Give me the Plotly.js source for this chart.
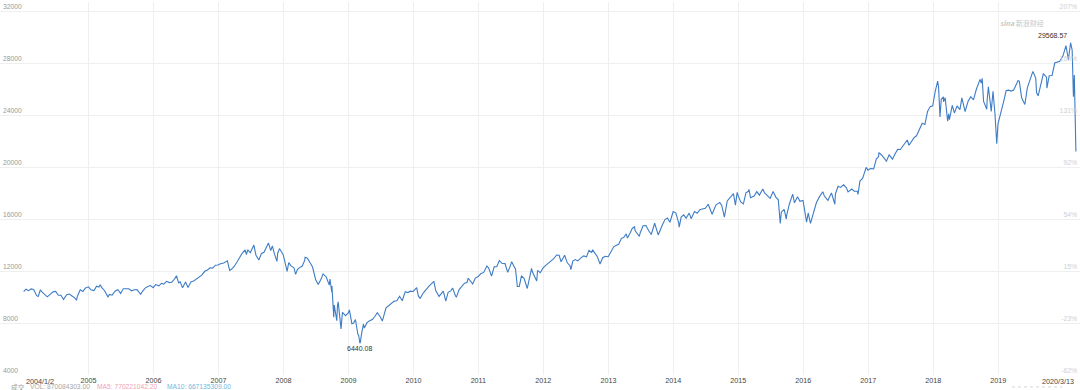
<!DOCTYPE html>
<html>
<head>
<meta charset="utf-8">
<script src="https://cdn.plot.ly/plotly-3.0.1.min.js"></script>
<style>html,body{margin:0;padding:0;background:#fff;}#chart{width:1080px;height:390px;}</style>
</head>
<body>
<div id="chart"></div>
<script>
// ---- data ----
const dates = [
 '2004-01-02','2004-01-15','2004-01-30','2004-02-13','2004-02-27','2004-03-15','2004-03-24','2004-03-31','2004-04-05','2004-04-15','2004-04-30','2004-05-14','2004-05-28','2004-06-15','2004-06-30','2004-07-15','2004-07-30','2004-08-13','2004-08-31','2004-09-15','2004-09-30','2004-10-15','2004-10-25','2004-10-29','2004-11-15','2004-11-30','2004-12-15','2004-12-31',
 '2005-01-14','2005-01-31','2005-02-15','2005-02-28','2005-03-07','2005-03-15','2005-03-31','2005-04-15','2005-04-20','2005-04-29','2005-05-13','2005-05-31','2005-06-15','2005-06-30','2005-07-15','2005-07-29','2005-08-15','2005-08-31','2005-09-15','2005-09-30','2005-10-21','2005-10-31','2005-11-15','2005-11-30','2005-12-15','2005-12-30',
 '2006-01-13','2006-01-31','2006-02-15','2006-02-28','2006-03-15','2006-03-31','2006-04-13','2006-04-28','2006-05-10','2006-05-22','2006-05-31','2006-06-13','2006-06-30','2006-07-14','2006-07-31','2006-08-15','2006-08-31','2006-09-15','2006-09-29','2006-10-16','2006-10-31','2006-11-15','2006-11-30','2006-12-15','2006-12-29',
 '2007-01-12','2007-01-31','2007-02-20','2007-02-27','2007-03-05','2007-03-15','2007-03-30','2007-04-16','2007-04-30','2007-05-15','2007-05-31','2007-06-07','2007-06-15','2007-06-29','2007-07-19','2007-07-31','2007-08-16','2007-08-31','2007-09-14','2007-09-28','2007-10-09','2007-10-22','2007-10-31','2007-11-12','2007-11-26','2007-11-30','2007-12-10','2007-12-31',
 '2008-01-22','2008-01-31','2008-02-14','2008-02-29','2008-03-10','2008-03-19','2008-03-31','2008-04-15','2008-04-30','2008-05-02','2008-05-15','2008-05-30','2008-06-13','2008-06-30','2008-07-15','2008-07-31','2008-08-11','2008-08-29','2008-09-15','2008-09-19','2008-09-29','2008-09-30','2008-10-10','2008-10-13','2008-10-27','2008-10-31','2008-11-04','2008-11-20','2008-11-28','2008-12-15','2008-12-31',
 '2009-01-06','2009-01-20','2009-01-30','2009-02-09','2009-02-23','2009-02-27','2009-03-06','2009-03-09','2009-03-16','2009-03-26','2009-03-31','2009-04-15','2009-04-30','2009-05-15','2009-05-29','2009-06-12','2009-06-30','2009-07-10','2009-07-31','2009-08-14','2009-08-31','2009-09-15','2009-09-30','2009-10-15','2009-10-30','2009-11-16','2009-11-30','2009-12-15','2009-12-31',
 '2010-01-19','2010-01-29','2010-02-08','2010-02-26','2010-03-15','2010-03-31','2010-04-26','2010-04-30','2010-05-06','2010-05-25','2010-05-31','2010-06-18','2010-07-02','2010-07-15','2010-07-30','2010-08-09','2010-08-26','2010-08-31','2010-09-15','2010-09-30','2010-10-15','2010-10-29','2010-11-05','2010-11-30','2010-12-15','2010-12-31',
 '2011-01-14','2011-01-31','2011-02-18','2011-02-28','2011-03-16','2011-03-31','2011-04-15','2011-04-29','2011-05-13','2011-05-31','2011-06-15','2011-06-30','2011-07-07','2011-07-29','2011-08-08','2011-08-19','2011-08-31','2011-09-15','2011-09-30','2011-10-03','2011-10-27','2011-10-31','2011-11-25','2011-11-30','2011-12-15','2011-12-30',
 '2012-01-13','2012-01-31','2012-02-15','2012-02-29','2012-03-16','2012-03-30','2012-04-10','2012-04-30','2012-05-15','2012-05-31','2012-06-04','2012-06-15','2012-06-29','2012-07-13','2012-07-31','2012-08-15','2012-08-31','2012-09-14','2012-09-28','2012-10-05','2012-10-31','2012-11-15','2012-11-30','2012-12-14','2012-12-31',
 '2013-01-15','2013-01-31','2013-02-15','2013-02-28','2013-03-15','2013-03-28','2013-04-11','2013-04-18','2013-04-30','2013-05-15','2013-05-28','2013-05-31','2013-06-24','2013-06-28','2013-07-15','2013-07-31','2013-08-15','2013-08-30','2013-09-18','2013-09-30','2013-10-08','2013-10-31','2013-11-15','2013-11-29','2013-12-13','2013-12-31',
 '2014-01-15','2014-01-31','2014-02-03','2014-02-14','2014-02-28','2014-03-14','2014-03-31','2014-04-11','2014-04-30','2014-05-15','2014-05-30','2014-06-13','2014-06-30','2014-07-16','2014-07-31','2014-08-07','2014-08-29','2014-09-19','2014-09-30','2014-10-15','2014-10-31','2014-11-14','2014-11-28','2014-12-05','2014-12-16','2014-12-26','2014-12-31',
 '2015-01-15','2015-01-30','2015-02-13','2015-02-27','2015-03-02','2015-03-11','2015-03-31','2015-04-15','2015-04-30','2015-05-19','2015-05-29','2015-06-15','2015-06-29','2015-06-30','2015-07-16','2015-07-31','2015-08-14','2015-08-24','2015-08-25','2015-08-31','2015-09-16','2015-09-28','2015-09-30','2015-10-15','2015-10-30','2015-11-03','2015-11-13','2015-11-30','2015-12-14','2015-12-31',
 '2016-01-20','2016-01-29','2016-02-11','2016-02-29','2016-03-15','2016-03-31','2016-04-20','2016-04-29','2016-05-19','2016-05-31','2016-06-08','2016-06-27','2016-06-30','2016-07-15','2016-07-29','2016-08-15','2016-08-31','2016-09-09','2016-09-30','2016-10-14','2016-10-31','2016-11-04','2016-11-15','2016-11-30','2016-12-20','2016-12-30',
 '2017-01-13','2017-01-31','2017-02-15','2017-02-28','2017-03-01','2017-03-15','2017-03-31','2017-04-13','2017-04-28','2017-05-17','2017-05-31','2017-06-15','2017-06-30','2017-07-14','2017-07-31','2017-08-08','2017-08-18','2017-08-31','2017-09-15','2017-09-29','2017-10-16','2017-10-31','2017-11-15','2017-11-30','2017-12-15','2017-12-29',
 '2018-01-12','2018-01-26','2018-01-31','2018-02-05','2018-02-08','2018-02-15','2018-02-27','2018-02-28','2018-03-09','2018-03-23','2018-03-29','2018-04-02','2018-04-18','2018-04-30','2018-05-15','2018-05-31','2018-06-11','2018-06-29','2018-07-16','2018-07-31','2018-08-15','2018-08-31','2018-09-21','2018-09-28','2018-10-03','2018-10-11','2018-10-29','2018-10-31','2018-11-07','2018-11-23','2018-11-30','2018-12-03','2018-12-14','2018-12-24','2018-12-31',
 '2019-01-15','2019-01-31','2019-02-15','2019-02-28','2019-03-15','2019-03-29','2019-04-23','2019-04-30','2019-05-13','2019-05-31','2019-06-14','2019-06-28','2019-07-15','2019-07-31','2019-08-05','2019-08-14','2019-08-30','2019-09-12','2019-09-30','2019-10-02','2019-10-15','2019-10-31','2019-11-15','2019-11-29','2019-12-13','2019-12-31',
 '2020-01-17','2020-01-31','2020-02-12','2020-02-21','2020-02-25','2020-02-28','2020-03-04','2020-03-09','2020-03-10','2020-03-11','2020-03-13'
];
const closes = [
 10409,10600,10488,10628,10584,10102,10048,10358,10558,10380,10226,10012,10188,10400,10435,10140,10140,9815,10174,10230,10080,9933,9750,10027,10550,10428,10692,10783,
 10558,10490,10837,10766,10940,10745,10504,10088,10012,10193,10140,10467,10566,10275,10640,10641,10634,10482,10558,10569,10215,10440,10686,10806,10881,10718,
 10959,10865,11058,10993,11209,11109,11138,11367,11642,11094,11168,10706,11150,10740,11186,11230,11381,11560,11679,11980,12081,12251,12222,12445,12463,
 12556,12622,12786,12216,12050,12133,12354,12720,13063,13383,13628,13266,13639,13409,14000,13212,12846,13358,13442,13896,14164,13567,13930,13300,12743,13372,13727,13265,
 11971,12650,12376,12266,11740,12099,12263,12362,12820,13058,12992,12638,12307,11350,10962,11378,11782,11544,10917,11388,10365,10851,8451,9387,8176,9325,9625,7552,8829,8565,8776,
 9015,7949,8001,8270,7114,7063,6440.08,6547,7217,7924,7609,8029,8168,8268,8500,8799,8447,8146,9172,9321,9496,9683,9712,10062,9713,10406,10345,10452,10428,
 10725,10067,9908,10325,10625,10857,11205,11009,10520,10043,10137,10450,9686,10359,10466,10698,10060,10015,10573,10788,11063,11118,11444,11006,11457,11578,
 11787,11892,12391,12226,11613,12320,12342,12811,12596,12570,11898,12414,12719,12143,10810,10817,11614,11433,10913,10655,12209,11955,11231,12046,11868,12218,
 12422,12633,12781,12952,13233,13212,12715,13214,12632,12393,12101,12767,12880,12777,13009,13165,13091,13593,13437,13610,13096,12542,13026,13135,13104,
 13534,13861,13981,14054,14514,14579,14865,14537,14840,15275,15409,15116,14660,14910,15484,15500,15112,14810,15676,15130,14776,15546,15962,16086,15755,16577,
 16482,15699,15373,16154,16322,16065,16458,16027,16581,16446,16717,16776,16827,17138,16563,16368,17098,17280,17043,16142,17391,17635,17828,17958,17068,18053,17823,
 17320,17165,18019,18133,18288,17635,17776,18112,17841,18312,18011,17791,17596,17620,18120,17690,17477,15871,15666,16528,16740,16001,16285,17141,17664,17918,17245,17720,17368,17425,
 15766,16466,15660,16517,17251,17685,18096,17774,17436,17787,18005,17140,17930,18516,18432,18636,18401,18085,18308,18138,18142,17888,18923,19124,19974,19763,
 19886,19864,20611,20812,21115,20950,20663,20453,20941,20607,21009,21360,21350,21638,21891,22085,21675,21948,22268,22405,22957,23377,23271,24272,24651,24719,
 25803,26617,26149,24346,23860,25200,25410,25029,25336,23533,24103,23644,24748,24163,24706,24416,25322,24271,25064,25415,25162,25965,26743,26458,26828,25052,24443,25116,26180,24286,25538,25826,24101,21792,23327,
 24065,24999,25883,25916,25849,25929,26656,26593,25324,24815,26090,26600,27359,26864,25718,25479,26403,27182,26917,26079,27024,27046,28005,28051,28135,28538,
 29348,28256,29568.57,28992,27081,25409,27090,23851,25018,23553,21200
];
const yTicks = [4000, 8000, 12000, 16000, 20000, 24000, 28000, 32000];
const pctLabels = ['-62%', '-23%', '15%', '54%', '92%', '131%', '169%', '207%'];
const yearTicks = ['2005','2006','2007','2008','2009','2010','2011','2012','2013','2014','2015','2016','2017','2018','2019'];
const firstLabel = '2004/1/2';
const lastLabel = '2020/3/13';
const legendParts = [
  {text: '成交', color: '#a0a0a0'},
  {text: 'VOL: 870084303.00', color: '#a9a9a9'},
  {text: 'MA5: 770221042.20', color: '#f0a3b6'},
  {text: 'MA10: 667135309.00', color: '#74b9e0'}
];

// ---- derived ----
let iMax = 0, iMin = 0;
closes.forEach((v, i) => { if (v > closes[iMax]) iMax = i; if (v < closes[iMin]) iMin = i; });
const fmt = v => v.toFixed(2);

const traces = [
  {x: dates, y: closes, type: 'scatter', mode: 'lines', line: {color: '#3e7cc6', width: 1.1}, hoverinfo: 'skip', showlegend: false},
  {x: dates, y: closes, type: 'scatter', mode: 'lines', yaxis: 'y2', line: {color: 'rgba(0,0,0,0)', width: 0}, hoverinfo: 'skip', showlegend: false}
];

const FONT = 'Liberation Sans, Arial, sans-serif';
const annotations = [
  {x: dates[iMax], y: closes[iMax], xref: 'x', yref: 'y', text: fmt(closes[iMax]), showarrow: false,
   xanchor: 'right', yanchor: 'bottom', xshift: -2, yshift: 2, font: {family: FONT, size: 7, color: '#333'}},
  {x: dates[iMin], y: closes[iMin], xref: 'x', yref: 'y', text: fmt(closes[iMin]), showarrow: false,
   xanchor: 'center', yanchor: 'top', yshift: 0, font: {family: FONT, size: 7, color: '#333'}},
  {x: dates[0], y: 0, xref: 'x', yref: 'paper', text: firstLabel, showarrow: false, xanchor: 'left', yanchor: 'top', yshift: 0,
   font: {family: FONT, size: 7.2, color: '#444'}},
  {x: dates[dates.length - 1], y: 0, xref: 'x', yref: 'paper', text: lastLabel, showarrow: false, xanchor: 'right', yanchor: 'top', yshift: 0,
   font: {family: FONT, size: 7.2, color: '#444'}},
  {x: 1022 / 1080, y: 1, xref: 'paper', yref: 'paper', text: '<i><b>sina</b></i> 新浪财经', showarrow: false, xanchor: 'center', yanchor: 'middle', yshift: -21,
   font: {family: 'Noto Sans CJK SC, sans-serif', size: 7, color: '#c8c8c8'}}
];
// volume header line
const legendX = [9, 28, 95, 165];
legendParts.forEach((p, i) => {
  annotations.push({x: legendX[i] / 1080, y: 0, xref: 'paper', yref: 'paper', text: p.text, showarrow: false,
    xanchor: 'left', yanchor: 'middle', yshift: -11.5,
    font: {family: i === 0 ? 'Noto Sans CJK SC, sans-serif' : FONT, size: 6.7, color: p.color}});
});

const layout = {
  width: 1080, height: 390,
  margin: {l: 0, r: 0, t: 2, b: 15, pad: 0},
  paper_bgcolor: '#ffffff', plot_bgcolor: '#ffffff',
  showlegend: false,
  xaxis: {
    type: 'date', range: ['2003-08-22', '2020-04-05'],
    tickmode: 'array', tickvals: yearTicks.map(y => y + '-01-01'), ticktext: yearTicks,
    showgrid: true, gridcolor: '#efefef', gridwidth: 1, zeroline: false, showline: false, ticks: '',
    tickfont: {family: FONT, size: 7.2, color: '#444'}, fixedrange: true
  },
  yaxis: {
    range: [4000, 32700], tickmode: 'array', tickvals: yTicks, ticktext: yTicks.map(String),
    ticklabelposition: 'inside top', showgrid: true, gridcolor: '#efefef', zeroline: false, showline: false, ticks: '',
    tickfont: {family: FONT, size: 6.8, color: '#9a9a9a'}, fixedrange: true
  },
  yaxis2: {
    overlaying: 'y', side: 'right', range: [4000, 32700], tickmode: 'array', tickvals: yTicks, ticktext: pctLabels,
    ticklabelposition: 'inside top', showgrid: false, zeroline: false, showline: false, ticks: '',
    tickfont: {family: FONT, size: 6.8, color: '#cfcfcf'}, fixedrange: true
  },
  shapes: [
    {type: 'line', xref: 'paper', yref: 'paper', x0: 1012/1080, x1: 1062/1080, y0: -0.032, y1: -0.032,
     line: {color: '#d5d5d5', width: 1, dash: 'dot'}}
  ],
  annotations: annotations
};

Plotly.newPlot('chart', traces, layout, {staticPlot: true, displayModeBar: false});
</script>
</body>
</html>
